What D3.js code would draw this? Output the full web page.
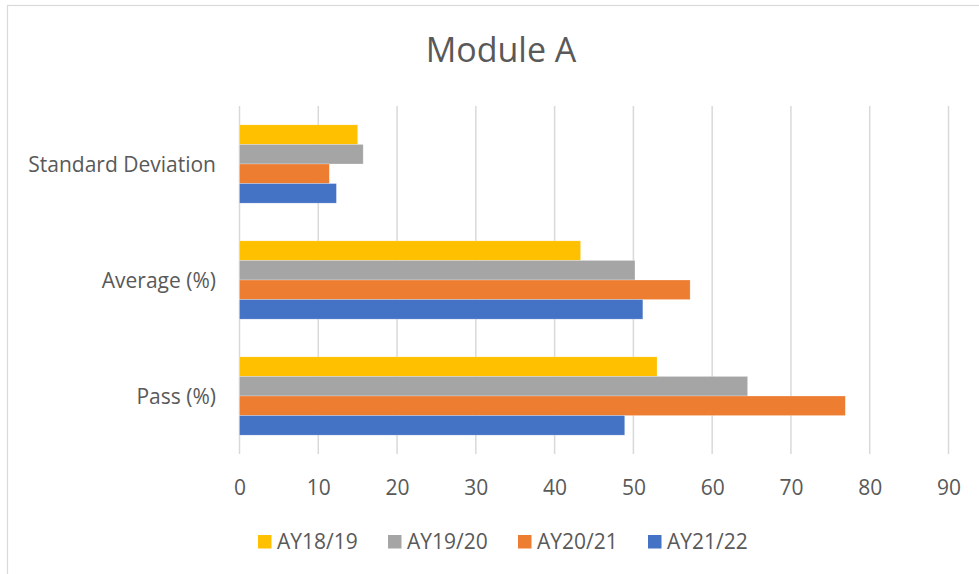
<!DOCTYPE html>
<html>
<head>
<meta charset="utf-8">
<script src="https://cdn.jsdelivr.net/npm/d3@7"></script>
<style>
  html, body { margin: 0; padding: 0; background: #fff; }
  svg text { font-family: "Open Sans", "Noto Sans", sans-serif; fill: #595959; }
</style>
</head>
<body>
<svg id="chart" width="979" height="574"></svg>
<script>
// Chart data
const categories = ["Standard Deviation", "Average (%)", "Pass (%)"];
const seriesNames = ["AY18/19", "AY19/20", "AY20/21", "AY21/22"];
const ay1819 = [15.0, 43.3, 53.0];
const ay1920 = [15.7, 50.2, 64.5];
const ay2021 = [11.4, 57.2, 76.9];
const ay2122 = [12.3, 51.2, 48.9];
const xTicks = [0, 10, 20, 30, 40, 50, 60, 70, 80, 90];
const seriesColors = ["#FFC000", "#A5A5A5", "#ED7D31", "#4472C4"];

const seriesValues = [ay1819, ay1920, ay2021, ay2122];

const svg = d3.select("#chart");
const W = 979, H = 574;
const plot = { left: 239.5, right: 948.5, top: 106, bottom: 454 };

// Outer chart border
svg.append("rect")
  .attr("x", 7.5).attr("y", 5.5)
  .attr("width", W + 10).attr("height", H + 10)
  .attr("fill", "#fff")
  .attr("stroke", "#D9D9D9").attr("stroke-width", 1.2);

// Title
svg.append("text")
  .attr("x", 501).attr("y", 62)
  .attr("text-anchor", "middle")
  .style("font-size", "34px")
  .text("Module A");

const x = d3.scaleLinear().domain([0, 90]).range([plot.left, plot.right]);
const y = d3.scaleBand().domain(categories).range([plot.top, plot.bottom])
  .paddingInner(0.325).paddingOuter(0.1625);
const ySub = d3.scaleBand().domain(seriesNames).range([0, y.bandwidth()]);

// Vertical gridlines
svg.append("g")
  .selectAll("line")
  .data(xTicks)
  .join("line")
  .attr("x1", d => x(d)).attr("x2", d => x(d))
  .attr("y1", plot.top).attr("y2", plot.bottom)
  .attr("stroke", "#D9D9D9").attr("stroke-width", 1.5);

// Bars
const groups = svg.append("g")
  .selectAll("g")
  .data(categories)
  .join("g")
  .attr("transform", c => `translate(0,${y(c)})`);

groups.selectAll("rect")
  .data((c, ci) => seriesNames.map((s, si) => ({ s, si, v: seriesValues[si][ci] })))
  .join("rect")
  .attr("x", x(0))
  .attr("y", d => ySub(d.s))
  .attr("width", d => x(d.v) - x(0))
  .attr("height", ySub.bandwidth())
  .attr("fill", d => seriesColors[d.si])
  .attr("stroke", "#fff").attr("stroke-opacity", 0.4).attr("stroke-width", 0.6);

// Category labels
svg.append("g")
  .selectAll("text")
  .data(categories)
  .join("text")
  .attr("x", 216)
  .attr("y", c => y(c) + y.bandwidth() / 2)
  .attr("dy", "0.36em")
  .attr("text-anchor", "end")
  .style("font-size", "21px")
  .text(c => c);

// X tick labels
const xAxis = d3.axisBottom(x).tickValues(xTicks).tickSize(0).tickPadding(0);
const axisG = svg.append("g")
  .attr("transform", `translate(0,${plot.bottom})`)
  .call(xAxis);
axisG.select(".domain").remove();
axisG.selectAll("text")
  .attr("y", 40.5).attr("dy", 0)
  .style("font-size", "21px")
  .style("font-family", "'Open Sans', 'Noto Sans', sans-serif")
  .attr("fill", "#595959");

// Legend
const legendX = [258, 388, 518, 648];
const legend = svg.append("g")
  .selectAll("g")
  .data(seriesNames)
  .join("g")
  .attr("transform", (d, i) => `translate(${legendX[i]},535)`);
legend.append("rect")
  .attr("width", 13.5).attr("height", 13.5)
  .attr("fill", (d, i) => seriesColors[i]);
legend.append("text")
  .attr("x", 19).attr("y", 14)
  .style("font-size", "21px")
  .text(d => d);
</script>
</body>
</html>
